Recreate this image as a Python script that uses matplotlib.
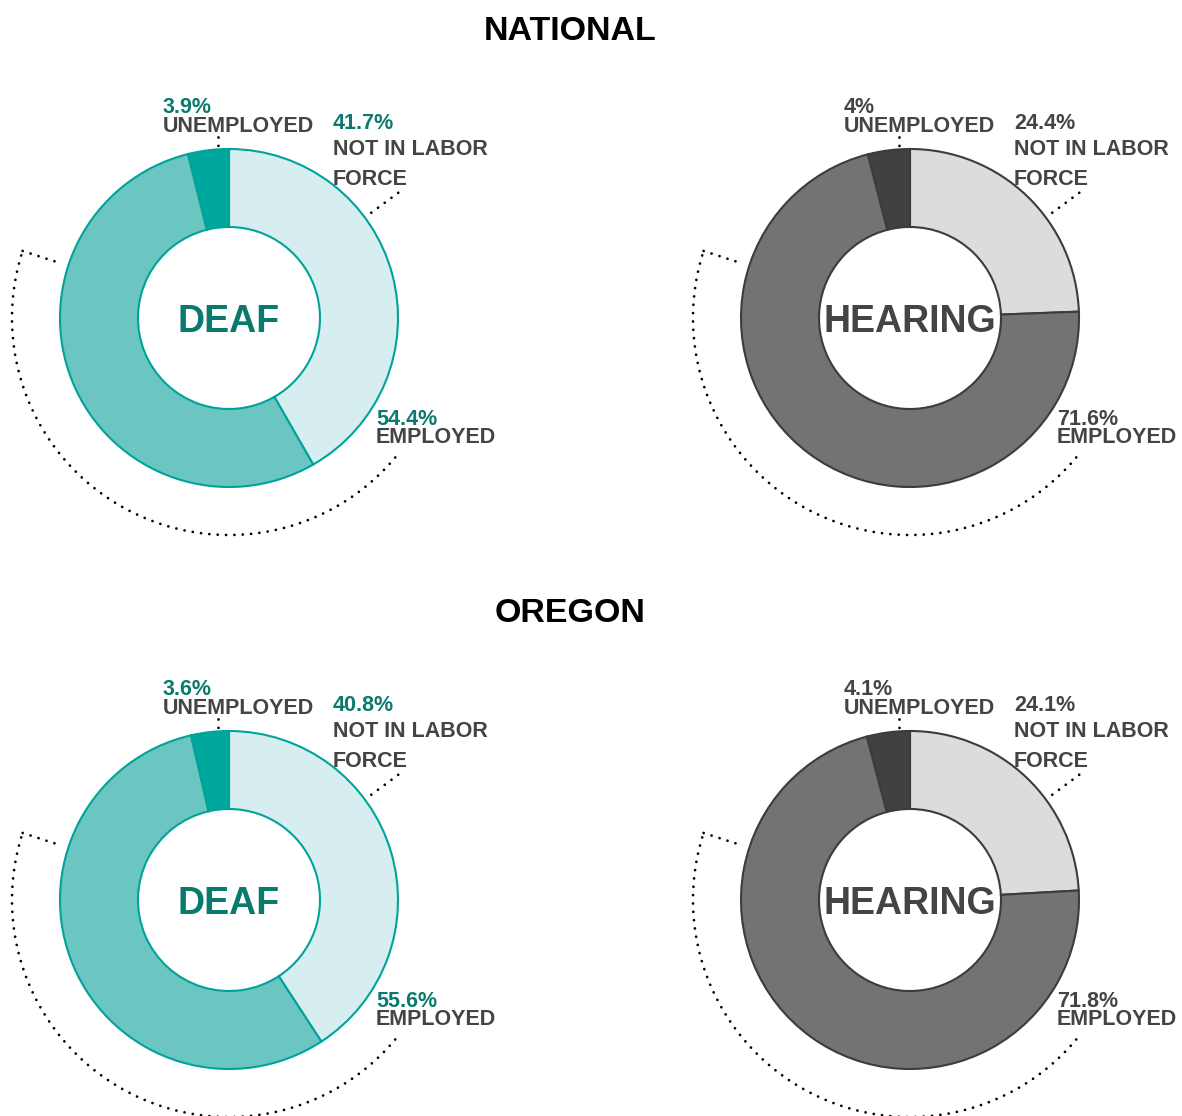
import numpy as np
import matplotlib
matplotlib.use('Agg')
import matplotlib.pyplot as plt

W, H = 1182, 1116

regions = ['NATIONAL', 'OREGON']
groups = ['DEAF', 'HEARING']
categories = ['NOT IN LABOR FORCE', 'EMPLOYED', 'UNEMPLOYED']
national_deaf = [41.7, 54.4, 3.9]
national_hearing = [24.4, 71.6, 4.0]
oregon_deaf = [40.8, 55.6, 3.6]
oregon_hearing = [24.1, 71.8, 4.1]
values = {('NATIONAL', 'DEAF'): national_deaf,
          ('NATIONAL', 'HEARING'): national_hearing,
          ('OREGON', 'DEAF'): oregon_deaf,
          ('OREGON', 'HEARING'): oregon_hearing}

styles = {
    'DEAF': dict(colors=['#d6eef0', '#6bc6c1', '#00a79d'], edge='#00a399',
                 center='#0a7a6e', pct='#0a7a6e'),
    'HEARING': dict(colors=['#dcdcdc', '#737375', '#414143'], edge='#3c3c3c',
                    center='#444444', pct='#444444'),
}
label_col = '#444444'
FONT = 'Liberation Sans'

fig = plt.figure(figsize=(W / 100, H / 100), dpi=100)
ax = fig.add_axes([0, 0, 1, 1])

R_OUT, R_IN = 169, 91


def pt(cx, cy, r, theta):
    # theta: degrees clockwise from 12 o'clock, y up
    t = np.deg2rad(theta)
    return cx + r * np.sin(t), cy + r * np.cos(t)


def dotted(xs, ys):
    ax.plot(xs, ys, color='black', lw=2.0, ls=(0, (0.01, 3.0)),
            dash_capstyle='round')


def txt(x, y_base, s, color, size=15.5):
    ax.text(x, H - y_base, s, color=color, fontsize=size, fontweight='bold',
            family=FONT, ha='left', va='baseline')


for ri, region in enumerate(regions):
    dy = ri * 582
    ax.text(570, H - (40 + dy), region, fontsize=24.5, fontweight='bold',
            family=FONT, ha='center', va='baseline', color='black')
    for gi, group in enumerate(groups):
        st = styles[group]
        vals = values[(region, group)]
        cx = 229 + gi * 681
        cy = H - (318 + dy)
        ax.pie(vals, colors=st['colors'], startangle=90, counterclock=False,
               radius=R_OUT, center=(cx, cy),
               wedgeprops=dict(width=R_OUT - R_IN, edgecolor=st['edge'],
                               linewidth=1.5))
        ax.text(cx, H - (332 + dy), group, fontsize=27, fontweight='bold',
                family=FONT, ha='center', va='baseline', color=st['center'])

        # labels
        ux = cx - 66
        txt(ux, 113 + dy, '{:g}%'.format(vals[2]), st['pct'])
        txt(ux, 132 + dy, 'UNEMPLOYED', label_col)
        nx = cx + 104
        txt(nx, 129 + dy, '{:g}%'.format(vals[0]), st['pct'])
        txt(nx, 155 + dy, 'NOT IN LABOR', label_col)
        txt(nx, 185 + dy, 'FORCE', label_col)
        ex = cx + 147
        txt(ex, 425 + dy, '{:g}%'.format(vals[1]), st['pct'])
        txt(ex, 443 + dy, 'EMPLOYED', label_col)

        # leader lines
        dotted([cx - 11, cx - 11], [H - (137 + dy), H - (150 + dy)])
        x0, y0 = pt(cx, cy, 177, 53.5)
        x1, y1 = pt(cx, cy, 216, 53.5)
        dotted([x0, x1], [y0, y1])
        th = np.linspace(130, 288, 120)
        ax_, ay_ = pt(cx, cy, 217, th)
        dotted(ax_, ay_)
        x0, y0 = pt(cx, cy, 217, 288)
        x1, y1 = pt(cx, cy, 176, 288)
        dotted([x0, x1], [y0, y1])

ax.set_xlim(0, W)
ax.set_ylim(0, H)
ax.set_aspect('equal')
ax.axis('off')
fig.savefig('out.png', dpi=100, facecolor='white')
